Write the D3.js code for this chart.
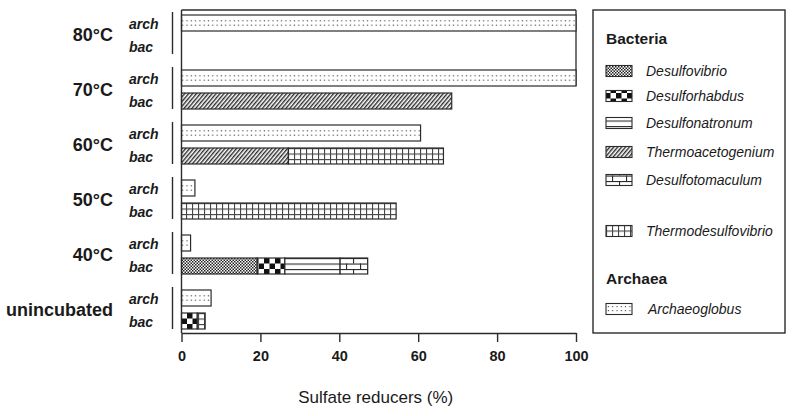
<!DOCTYPE html>
<html><head><meta charset="utf-8">
<script src="https://cdn.jsdelivr.net/npm/d3@7"></script>
<style>
html,body{margin:0;padding:0;background:#fff;}
svg{display:block;font-family:"Liberation Sans",Arial,Helvetica,sans-serif;}
</style></head>
<body><svg id="chart" width="796" height="416"></svg>
<script>
// ---- data ----
const groups = ["80°C", "70°C", "60°C", "50°C", "40°C", "unincubated"];
const rowKinds = ["arch", "bac"];
const bacTaxa = ["Desulfovibrio", "Desulforhabdus", "Desulfonatronum", "Thermoacetogenium", "Desulfotomaculum", "Thermodesulfovibrio"];
const archTaxa = ["Archaeoglobus"];
const archaeoglobus = [100, 100, 60.6, 3.4, 2.3, 7.5];
const desulfovibrio = [0, 0, 0, 0, 19.2, 0];
const desulforhabdus = [0, 0, 0, 0, 7.0, 4.0];
const desulfonatronum = [0, 0, 0, 0, 14.0, 0];
const thermoacetogenium = [0, 68.5, 27.1, 0, 0, 0];
const desulfotomaculum = [0, 0, 0, 0, 7.0, 0];
const thermodesulfovibrio = [0, 0, 39.3, 54.4, 0, 2.0];
const xTicks = [0, 20, 40, 60, 80, 100];
const xTitle = "Sulfate reducers (%)";

const bacValues = {
  Desulfovibrio: desulfovibrio, Desulforhabdus: desulforhabdus, Desulfonatronum: desulfonatronum,
  Thermoacetogenium: thermoacetogenium, Desulfotomaculum: desulfotomaculum, Thermodesulfovibrio: thermodesulfovibrio
};
const patId = {
  Desulfovibrio: "pFineCheck", Desulforhabdus: "pBigCheck", Desulfonatronum: "pHLines",
  Thermoacetogenium: "pHatch", Desulfotomaculum: "pBrick", Thermodesulfovibrio: "pGrid", Archaeoglobus: "pDots"
};

const svg = d3.select("#chart");
const ink = "#2b2b2b";

const x = d3.scaleLinear().domain([0, 100]).range([181.5, 576]);
const yG = d3.scaleBand().domain(groups).range([15, 15 + 55 * groups.length]).padding(0);
const yR = d3.scaleBand().domain(rowKinds).range([0, 39]).paddingInner(7 / 23).paddingOuter(0);
const barH = yR.bandwidth();
const archTop0 = yG(groups[0]) + yR("arch");
const bacTop0 = yG(groups[0]) + yR("bac");

// ---- patterns ----
const defs = svg.append("defs");
function pat(id, w, h, y0) {
  return defs.append("pattern").attr("id", id).attr("patternUnits", "userSpaceOnUse")
    .attr("x", 0).attr("y", y0 || 0).attr("width", w).attr("height", h);
}
function dotPattern(id, y0, h, rows) {
  const p = pat(id, 4.3, h, y0);
  p.append("rect").attr("width", 4.3).attr("height", h).attr("fill", "#fff");
  rows.forEach(r => p.append("rect").attr("x", 1.5).attr("y", r).attr("width", 1.2).attr("height", 1.2).attr("fill", "#555"));
}
dotPattern("pDots", archTop0, yG.step(), [5.2, 9.6]);
dotPattern("pDotsLeg", 303, 100, [3, 7]);
{
  const p = pat("pFineCheck", 3, 3);
  p.append("rect").attr("width", 3).attr("height", 3).attr("fill", "#fff");
  p.append("rect").attr("width", 1.5).attr("height", 1.5).attr("fill", "#222");
  p.append("rect").attr("x", 1.5).attr("y", 1.5).attr("width", 1.5).attr("height", 1.5).attr("fill", "#222");
}
{
  const c = yG.step() / 10;
  const p = pat("pBigCheck", 2 * c, 2 * c, bacTop0);
  p.append("rect").attr("width", 2 * c).attr("height", 2 * c).attr("fill", "#fff");
  p.append("rect").attr("width", c).attr("height", c).attr("fill", "#111");
  p.append("rect").attr("x", c).attr("y", c).attr("width", c).attr("height", c).attr("fill", "#111");
}
{
  const c = yG.step() / 10;
  const p = pat("pHLines", 10, c, bacTop0);
  p.append("rect").attr("width", 10).attr("height", c).attr("fill", "#fff");
  p.append("rect").attr("y", 0).attr("width", 10).attr("height", 1.1).attr("fill", ink);
}
{
  const p = defs.append("pattern").attr("id", "pHatch").attr("patternUnits", "userSpaceOnUse")
    .attr("width", 3).attr("height", 10).attr("patternTransform", "rotate(40)");
  p.append("rect").attr("width", 3).attr("height", 10).attr("fill", "#fff");
  p.append("rect").attr("width", 1.4).attr("height", 10).attr("fill", "#2a2a2a");
}
{
  const c = yG.step() / 10;
  const p = pat("pBrick", 14, 2 * c, bacTop0);
  p.append("rect").attr("width", 14).attr("height", 2 * c).attr("fill", "#fff");
  p.append("rect").attr("y", 0).attr("width", 14).attr("height", 1.1).attr("fill", ink);
  p.append("rect").attr("y", c).attr("width", 14).attr("height", 1.1).attr("fill", ink);
  p.append("rect").attr("x", 3).attr("y", 0).attr("width", 1.1).attr("height", c).attr("fill", ink);
  p.append("rect").attr("x", 10).attr("y", c).attr("width", 1.1).attr("height", c).attr("fill", ink);
}
{
  const c = yG.step() / 10;
  const p = pat("pGrid", 6, c, bacTop0);
  p.append("rect").attr("width", 6).attr("height", c).attr("fill", "#fff");
  p.append("rect").attr("y", 0).attr("width", 6).attr("height", 1.1).attr("fill", "#444");
  p.append("rect").attr("x", 0).attr("width", 1.1).attr("height", c).attr("fill", "#444");
}

// ---- frame / axes ----
const g = svg.append("g");
g.append("line").attr("x1", x(0)).attr("x2", x(100)).attr("y1", 10).attr("y2", 10)
  .attr("stroke", ink).attr("stroke-width", 1.3);
g.append("line").attr("x1", x(100)).attr("x2", x(100)).attr("y1", 10).attr("y2", yG(groups[1]) + yR("arch") + barH)
  .attr("stroke", ink).attr("stroke-width", 1.3);

const archRows = groups.map((grp, i) => ({ grp, v: archaeoglobus[i] })).filter(d => d.v > 0);
g.append("g").selectAll("rect").data(archRows).join("rect")
  .attr("x", x(0)).attr("width", d => x(d.v) - x(0))
  .attr("y", d => yG(d.grp) + yR("arch")).attr("height", barH)
  .attr("fill", "url(#pDots)").attr("stroke", ink).attr("stroke-width", 1.2);

const table = groups.map((grp, i) => {
  const o = { grp };
  bacTaxa.forEach(t => o[t] = bacValues[t][i]);
  return o;
});
const stacked = d3.stack().keys(bacTaxa)(table);
g.append("g").selectAll("g").data(stacked).join("g")
  .attr("fill", s => "url(#" + patId[s.key] + ")")
  .selectAll("rect").data(s => s.filter(d => d[1] - d[0] > 0)).join("rect")
  .attr("x", d => x(d[0])).attr("width", d => x(d[1]) - x(d[0]))
  .attr("y", d => yG(d.data.grp) + yR("bac")).attr("height", barH)
  .attr("stroke", ink).attr("stroke-width", 1.2);

g.append("line").attr("x1", x(0)).attr("x2", x(0)).attr("y1", 10).attr("y2", 333)
  .attr("stroke", ink).attr("stroke-width", 1.4);

const xa = g.append("g").attr("transform", "translate(0,333)")
  .call(d3.axisBottom(x).tickValues(xTicks).tickSize(9).tickPadding(9).tickSizeOuter(0));
xa.select(".domain").attr("stroke", ink).attr("stroke-width", 1.4);
xa.selectAll(".tick line").attr("stroke", ink).attr("stroke-width", 1.4);
xa.selectAll(".tick text").attr("fill", "#1a1a1a").attr("font-size", 14.5).attr("font-weight", "bold")
  .attr("font-family", "'Liberation Sans',Arial,sans-serif");

svg.append("text").attr("x", (x(0) + x(100)) / 2 - 3).attr("y", 397).attr("dy", "0.35em")
  .attr("text-anchor", "middle").attr("font-size", 17).attr("fill", "#1a1a1a").text(xTitle);

const gl = svg.append("g");
gl.selectAll("line").data(groups).join("line")
  .attr("x1", 172.5).attr("x2", 172.5)
  .attr("y1", d => yG(d) - 3).attr("y2", d => yG(d) + 39)
  .attr("stroke", ink).attr("stroke-width", 1.4);
gl.selectAll("text.grp").data(groups).join("text").attr("class", "grp")
  .attr("x", 113).attr("y", d => yG(d) + 20).attr("dy", "0.35em")
  .attr("text-anchor", "end").attr("font-size", 18).attr("font-weight", "bold").attr("fill", "#1a1a1a")
  .text(d => d);
const rowLabels = groups.flatMap(grp => rowKinds.map(r => ({ grp, r })));
gl.selectAll("text.row").data(rowLabels).join("text").attr("class", "row")
  .attr("x", 129).attr("y", d => yG(d.grp) + yR(d.r) + barH / 2 + 1.5).attr("dy", "0.35em")
  .attr("font-size", 14).attr("font-weight", "bold").attr("font-style", "italic").attr("fill", "#1a1a1a")
  .text(d => d.r);

const lg = svg.append("g");
lg.append("rect").attr("x", 593).attr("y", 10).attr("width", 192).attr("height", 323)
  .attr("fill", "#fff").attr("stroke", ink).attr("stroke-width", 1.4);
const legendHeads = [{ t: "Bacteria", y: 39 }, { t: "Archaea", y: 279 }];
lg.selectAll("text.head").data(legendHeads).join("text").attr("class", "head")
  .attr("x", 606).attr("y", d => d.y).attr("dy", "0.35em")
  .attr("font-size", 15.5).attr("font-weight", "bold").attr("fill", "#1a1a1a").text(d => d.t);
const legendYs = [71, 96, 123, 152, 180, 231];
const legendItems = bacTaxa.map((t, i) => ({ t, y: legendYs[i], fill: "url(#" + patId[t] + ")" }))
  .concat(archTaxa.map(t => ({ t, y: 309, fill: "url(#pDotsLeg)" })));
const li = lg.selectAll("g.item").data(legendItems).join("g").attr("class", "item");
li.append("rect").attr("x", 606).attr("y", d => d.y - 5.5).attr("width", 26).attr("height", 11)
  .attr("fill", d => d.fill).attr("stroke", ink).attr("stroke-width", 1.1);
li.append("text").attr("x", d => d.t === "Archaeoglobus" ? 648 : 646).attr("y", d => d.y).attr("dy", "0.35em")
  .attr("font-size", 14).attr("font-style", "italic").attr("fill", "#1a1a1a").text(d => d.t);
</script></body></html>
